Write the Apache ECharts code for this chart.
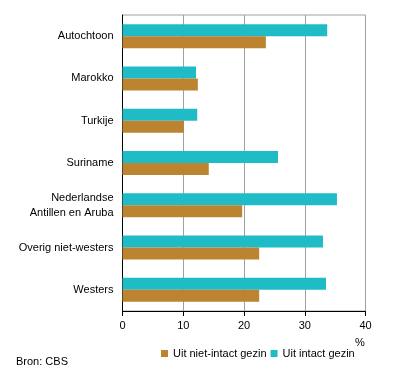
<!DOCTYPE html>
<html><head><meta charset="utf-8">
<script src="https://cdn.jsdelivr.net/npm/echarts@6/dist/echarts.min.js"></script>
<style>html,body{margin:0;padding:0;background:#fff}#c{width:396px;height:380px}</style>
</head><body><div id="c"></div>
<script>
const categories = ['Autochtoon','Marokko','Turkije','Suriname','Nederlandse\nAntillen en Aruba','Overig niet-westers','Westers'];
const intact = [33.7, 12.1, 12.3, 25.6, 35.3, 33.0, 33.5];
const nietIntact = [23.6, 12.4, 10.1, 14.2, 19.7, 22.5, 22.5];
const xTicks = [0, 10, 20, 30, 40];

const font = 'Arial, "Liberation Sans", sans-serif';
const chart = echarts.init(document.getElementById('c'));
chart.setOption({
  animation: false,
  textStyle: {fontFamily: font},
  grid: {left: 122.5, right: 30.5, top: 15, bottom: 69, show: true, borderColor: '#a0a0a0', borderWidth: 1, containLabel: false},
  legend: {
    data: ['Uit niet-intact gezin', 'Uit intact gezin'],
    left: 161, top: 348, padding: 0, itemWidth: 7, itemHeight: 7, itemGap: 4,
    icon: 'rect', textStyle: {fontSize: 11, color: '#000', fontFamily: font}
  },
  graphic: [
    {type: 'text', left: 16, top: 356, style: {text: 'Bron: CBS', fontSize: 11, fill: '#000', fontFamily: font}},
    {type: 'text', left: 355, top: 337, style: {text: '%', fontSize: 11, fill: '#000', fontFamily: font}}
  ],
  xAxis: {
    type: 'value', min: xTicks[0], max: xTicks[xTicks.length-1], interval: 10,
    axisLine: {show: true, lineStyle: {color: '#000', width: 1}},
    axisTick: {show: true, length: 5, lineStyle: {color: '#000'}},
    axisLabel: {fontSize: 11, color: '#000', margin: 9, fontFamily: font},
    splitLine: {show: true, lineStyle: {color: '#a0a0a0', width: 1}}
  },
  yAxis: {
    type: 'category', data: categories, inverse: true,
    axisLine: {show: true, lineStyle: {color: '#000', width: 1}},
    axisTick: {show: false},
    axisLabel: {fontSize: 11, color: '#000', margin: 9, lineHeight: 15, fontFamily: font}
  },
  series: [
    {name: 'Uit intact gezin', type: 'bar', data: intact, barWidth: 12, barGap: '0%', itemStyle: {color: '#1FBCC8'}},
    {name: 'Uit niet-intact gezin', type: 'bar', data: nietIntact, barWidth: 12, barGap: '0%', itemStyle: {color: '#BC8431'}}
  ]
});
</script></body></html>
